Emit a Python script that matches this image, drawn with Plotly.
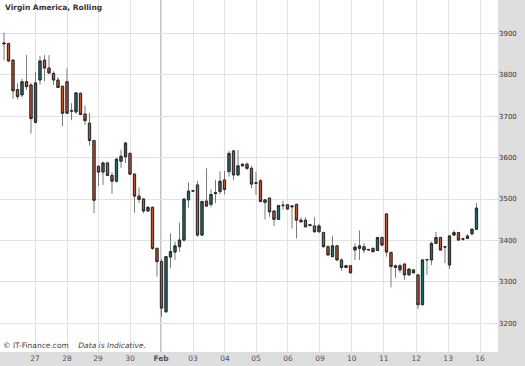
import plotly.graph_objects as go

# ---- data ----
opens = [3874, 3875, 3835, 3764, 3751, 3783, 3775, 3685, 3787, 3835,
         3816, 3803, 3787, 3772, 3783, 3712, 3710, 3755, 3705, 3683,
         3641, 3579, 3565, 3587, 3557, 3543, 3591, 3602, 3610, 3560,
         3507, 3500, 3471, 3480, 3381, 3349, 3228, 3360, 3372, 3385,
         3401, 3498, 3519, 3534, 3413, 3495, 3487, 3513, 3518, 3546,
         3566, 3616, 3558, 3580, 3584, 3574, 3538, 3544, 3492, 3502,
         3471, 3451, 3484, 3486, 3481, 3487, 3449, 3449, 3436, 3435,
         3421, 3419, 3385, 3361, 3387, 3353, 3335, 3339, 3377, 3387,
         3385, 3377, 3381, 3376, 3407, 3464, 3371, 3339, 3329, 3343,
         3317, 3329, 3317, 3245, 3353, 3353, 3393, 3407, 3384, 3341,
         3413, 3419, 3403, 3405, 3416, 3427]
highs = [3901, 3877, 3837, 3779, 3790, 3847, 3780, 3807, 3845, 3847,
         3847, 3808, 3794, 3773, 3815, 3731, 3758, 3757, 3725, 3707,
         3643, 3581, 3590, 3589, 3565, 3600, 3619, 3638, 3612, 3562,
         3528, 3502, 3483, 3482, 3383, 3355, 3363, 3417, 3397, 3443,
         3502, 3540, 3521, 3544, 3496, 3574, 3523, 3546, 3567, 3568,
         3616, 3618, 3618, 3586, 3588, 3580, 3566, 3548, 3500, 3504,
         3473, 3486, 3496, 3488, 3484, 3489, 3456, 3456, 3440, 3456,
         3440, 3421, 3389, 3411, 3389, 3357, 3341, 3341, 3393, 3424,
         3393, 3380, 3383, 3409, 3410, 3465, 3373, 3342, 3344, 3345,
         3333, 3331, 3319, 3355, 3355, 3397, 3421, 3409, 3386, 3413,
         3425, 3421, 3407, 3415, 3430, 3490]
lows = [3835, 3830, 3741, 3740, 3745, 3763, 3658, 3682, 3776, 3784,
        3801, 3775, 3768, 3676, 3705, 3690, 3705, 3702, 3679, 3629,
        3466, 3531, 3534, 3555, 3513, 3540, 3575, 3587, 3558, 3467,
        3490, 3466, 3469, 3377, 3313, 3216, 3225, 3333, 3353, 3373,
        3398, 3479, 3518, 3409, 3411, 3482, 3480, 3490, 3511, 3511,
        3554, 3546, 3555, 3578, 3570, 3526, 3510, 3492, 3451, 3457,
        3435, 3449, 3474, 3474, 3429, 3405, 3443, 3431, 3434, 3419,
        3419, 3383, 3363, 3359, 3351, 3327, 3333, 3320, 3353, 3353,
        3369, 3375, 3371, 3374, 3385, 3361, 3287, 3310, 3322, 3305,
        3315, 3320, 3234, 3243, 3317, 3341, 3391, 3375, 3345, 3331,
        3411, 3399, 3399, 3403, 3412, 3425]
closes = [3876, 3833, 3761, 3747, 3783, 3771, 3694, 3780, 3833, 3816,
          3804, 3787, 3769, 3707, 3707, 3713, 3756, 3704, 3689, 3641,
          3497, 3565, 3587, 3557, 3543, 3596, 3603, 3635, 3560, 3507,
          3499, 3471, 3480, 3381, 3349, 3237, 3361, 3373, 3387, 3401,
          3500, 3519, 3520, 3413, 3494, 3483, 3511, 3515, 3543, 3523,
          3610, 3558, 3580, 3584, 3574, 3536, 3539, 3494, 3498, 3469,
          3451, 3484, 3485, 3476, 3483, 3449, 3445, 3433, 3438, 3421,
          3435, 3385, 3365, 3387, 3353, 3335, 3339, 3322, 3384, 3381,
          3377, 3378, 3373, 3407, 3389, 3372, 3337, 3335, 3339, 3317,
          3331, 3322, 3245, 3353, 3354, 3393, 3407, 3377, 3385, 3411,
          3419, 3401, 3404, 3411, 3427, 3478]

day_labels = ["27", "28", "29", "30", "<b>Feb</b>", "03", "04", "05", "06",
              "09", "10", "11", "12", "13", "16"]
day_ticks = [6.9, 14.0, 20.9, 28.0, 34.9, 42.0, 49.1, 56.0, 63.1, 70.2,
             77.3, 84.4, 91.6, 98.7, 105.8]
price_ticks = [3200, 3300, 3400, 3500, 3600, 3700, 3800, 3900]

x = list(range(len(opens)))
body_hi = [max(o, c) for o, c in zip(opens, closes)]
body_lo = [min(o, c) for o, c in zip(opens, closes)]

UP = "#1e6b70"
DOWN = "#c0532c"

fig = go.Figure()
# wicks
fig.add_trace(go.Candlestick(
    x=x, open=opens, high=highs, low=lows, close=closes,
    increasing=dict(line=dict(color="#7a7a7a", width=1), fillcolor=UP),
    decreasing=dict(line=dict(color="#7a7a7a", width=1), fillcolor=DOWN),
    whiskerwidth=0, hoverinfo="skip", showlegend=False))
# bodies
fig.add_trace(go.Candlestick(
    x=x, open=opens, high=body_hi, low=body_lo, close=closes,
    increasing=dict(line=dict(color="#2b2b2b", width=1), fillcolor=UP),
    decreasing=dict(line=dict(color="#2b2b2b", width=1), fillcolor=DOWN),
    whiskerwidth=0, showlegend=False))

# Feb separator line
fig.add_shape(type="line", xref="x", yref="paper", x0=day_ticks[4], x1=day_ticks[4],
              y0=0, y1=1, line=dict(color="#a8a8a8", width=1.5), layer="below")

fig.add_annotation(text="<b>Virgin America, Rolling</b>", xref="paper", yref="paper",
                   x=0.006, y=0.998, xanchor="left", yanchor="top", showarrow=False,
                   font=dict(family="DejaVu Sans", size=7.5, color="#333333"))
fig.add_annotation(text="© IT-Finance.com&nbsp;&nbsp;&nbsp;&nbsp;<i>Data is Indicative.</i>",
                   xref="paper", yref="paper", x=0.002, y=0.0, xanchor="left", yanchor="bottom",
                   showarrow=False, font=dict(family="DejaVu Sans", size=7.5, color="#444444"))

fig.update_layout(
    width=525, height=366,
    margin=dict(l=0, r=27, t=0, b=14, pad=0),
    paper_bgcolor="#dedede", plot_bgcolor="#ffffff",
    showlegend=False,
    xaxis=dict(range=[-0.89, 109.78], tickmode="array", tickvals=day_ticks,
               ticktext=day_labels, showgrid=True, gridcolor="#e2e2e2", gridwidth=1,
               zeroline=False, rangeslider=dict(visible=False), ticks="",
               tickfont=dict(family="DejaVu Sans", size=7.5, color="#555555"),
               showline=False, fixedrange=True),
    yaxis=dict(range=[3131, 3980], side="right", tickmode="array", tickvals=price_ticks,
               showgrid=True, gridcolor="#e2e2e2", gridwidth=1, zeroline=False, ticks="",
               tickfont=dict(family="DejaVu Sans", size=7, color="#333333"),
               tickprefix="<b>", ticksuffix="</b>", showline=False, fixedrange=True),
)

fig.write_html("out.html", config={"displayModeBar": False},
               post_script="document.body.style.margin='0';document.body.style.padding='0';")
